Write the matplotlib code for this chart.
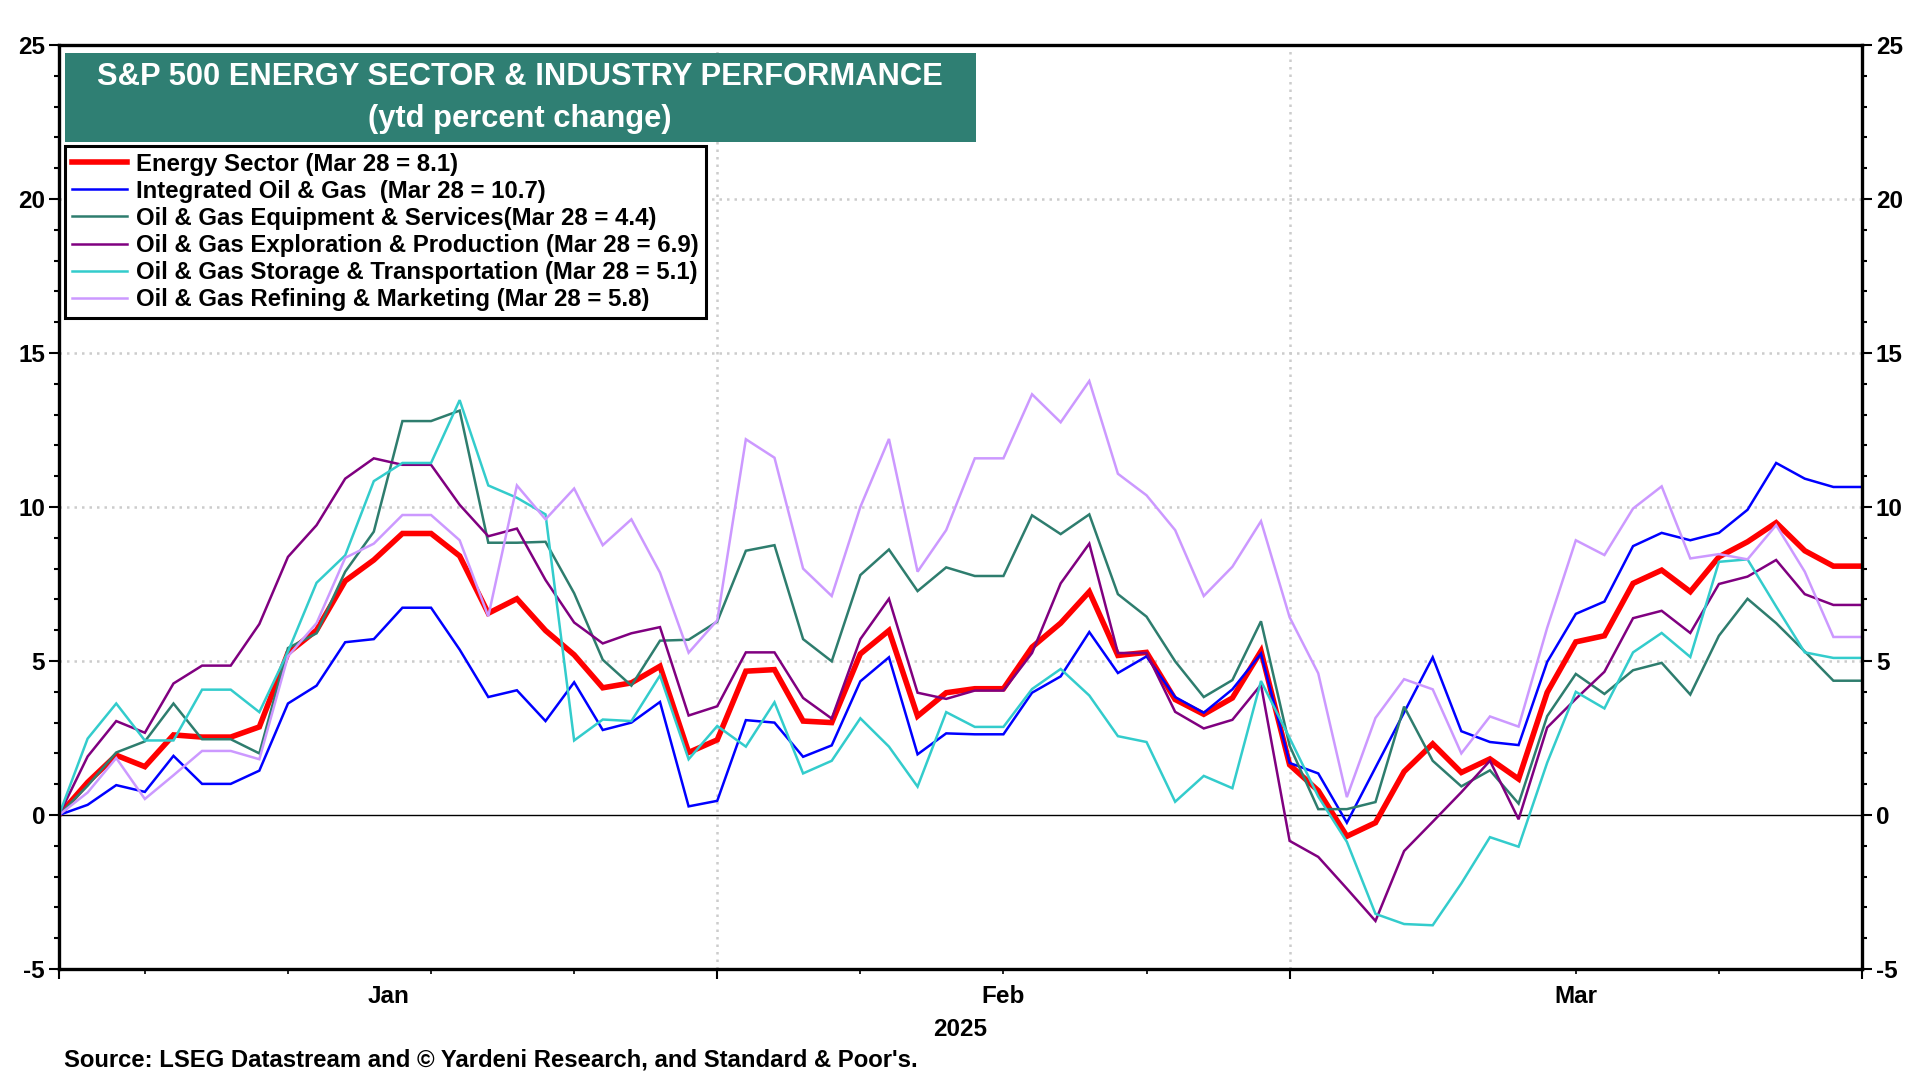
import numpy as np
import pandas as pd
import matplotlib
matplotlib.use('Agg')
import matplotlib.pyplot as plt
from matplotlib.patches import Rectangle
from matplotlib.ticker import MultipleLocator

plt.rcParams['font.family'] = ['Liberation Sans', 'DejaVu Sans']
plt.rcParams['font.weight'] = 'bold'
plt.rcParams['axes.unicode_minus'] = False

# weekdays Jan 1 - Mar 31 2025 (holidays carried forward)
dates = pd.bdate_range('2025-01-01', '2025-03-31')

energy = [0, 1.06, 1.94, 1.57, 2.6, 2.53, 2.53, 2.86, 5.26, 6.0, 7.6, 8.28, 9.14, 9.14,
          8.41, 6.55, 7.02, 5.99, 5.2, 4.13, 4.29, 4.83, 2.03, 2.44, 4.67, 4.72, 3.05, 3.0,
          5.23, 5.99, 3.21, 3.97, 4.1, 4.1, 5.45, 6.23, 7.25, 5.18, 5.28, 3.75, 3.27,
          3.8, 5.32, 1.63, 0.79, -0.69, -0.25, 1.41, 2.31, 1.38, 1.82, 1.17, 3.98,
          5.62, 5.82, 7.52, 7.95, 7.25, 8.38, 8.87, 9.49, 8.58, 8.08, 8.08]
integrated = [0, 0.33, 0.97, 0.75, 1.92, 1.01, 1.01, 1.44, 3.62, 4.2, 5.61, 5.71, 6.73, 6.73,
              5.37, 3.83, 4.05, 3.05, 4.31, 2.76, 3.0, 3.67, 0.28, 0.46, 3.08, 3.0, 1.89, 2.26,
              4.34, 5.12, 1.97, 2.65, 2.62, 2.62, 3.97, 4.5, 5.94, 4.61, 5.15, 3.83, 3.32,
              4.08, 5.24, 1.69, 1.35, -0.25, 1.54, 3.33, 5.12, 2.72, 2.37, 2.27, 4.97,
              6.53, 6.93, 8.73, 9.16, 8.92, 9.16, 9.91, 11.43, 10.92, 10.65, 10.65]
equipment = [0, 0.95, 2.03, 2.39, 3.62, 2.46, 2.46, 2.0, 5.42, 5.9, 7.9, 9.2, 12.79, 12.79,
             13.13, 8.84, 8.84, 8.87, 7.2, 5.04, 4.2, 5.66, 5.69, 6.28, 8.58, 8.76, 5.71, 4.99,
             7.79, 8.62, 7.27, 8.04, 7.76, 7.76, 9.73, 9.12, 9.76, 7.17, 6.44, 4.99, 3.83,
             4.38, 6.29, 2.25, 0.19, 0.19, 0.42, 3.52, 1.76, 0.93, 1.45, 0.37, 3.21,
             4.58, 3.93, 4.7, 4.94, 3.91, 5.82, 7.02, 6.23, 5.31, 4.36, 4.36]
exploration = [0, 1.9, 3.05, 2.67, 4.27, 4.85, 4.85, 6.2, 8.38, 9.41, 10.92, 11.58, 11.37, 11.37,
               10.07, 9.05, 9.3, 7.63, 6.25, 5.57, 5.9, 6.1, 3.23, 3.53, 5.28, 5.28, 3.8, 3.13,
               5.71, 7.02, 3.97, 3.77, 4.04, 4.04, 5.26, 7.52, 8.81, 5.26, 5.26, 3.35, 2.81,
               3.09, 4.23, -0.84, -1.36, -2.39, -3.44, -1.17, -0.22, 0.74, 1.76, -0.14, 2.84,
               3.77, 4.65, 6.39, 6.63, 5.91, 7.5, 7.74, 8.28, 7.17, 6.82, 6.82]
storage = [0, 2.48, 3.62, 2.42, 2.42, 4.07, 4.07, 3.34, 5.3, 7.54, 8.43, 10.84, 11.43, 11.43,
           13.47, 10.7, 10.3, 9.76, 2.42, 3.1, 3.05, 4.53, 1.81, 2.89, 2.22, 3.66, 1.35, 1.76,
           3.14, 2.22, 0.92, 3.34, 2.86, 2.86, 4.09, 4.74, 3.88, 2.56, 2.37, 0.43, 1.27,
           0.87, 4.35, 2.5, 0.6, -0.87, -3.21, -3.54, -3.58, -2.22, -0.72, -1.03, 1.7,
           4.0, 3.46, 5.28, 5.91, 5.13, 8.22, 8.3, 6.77, 5.28, 5.1, 5.1]
refining = [0, 0.73, 1.85, 0.52, 1.29, 2.08, 2.08, 1.81, 5.15, 6.23, 8.35, 8.81, 9.74, 9.74,
            8.92, 6.45, 10.7, 9.6, 10.6, 8.76, 9.6, 7.87, 5.27, 6.32, 12.2, 11.6, 8.0, 7.11,
            10.0, 12.21, 7.9, 9.25, 11.58, 11.58, 13.66, 12.75, 14.09, 11.08, 10.38, 9.25, 7.11,
            8.06, 9.54, 6.42, 4.6, 0.58, 3.15, 4.41, 4.08, 2.0, 3.2, 2.87, 6.08,
            8.92, 8.44, 9.95, 10.67, 8.33, 8.47, 8.3, 9.41, 7.9, 5.78, 5.78]

labels = ['Energy Sector (Mar 28 = 8.1)',
          'Integrated Oil & Gas  (Mar 28 = 10.7)',
          'Oil & Gas Equipment & Services(Mar 28 = 4.4)',
          'Oil & Gas Exploration & Production (Mar 28 = 6.9)',
          'Oil & Gas Storage & Transportation (Mar 28 = 5.1)',
          'Oil & Gas Refining & Marketing (Mar 28 = 5.8)']
series = [energy, integrated, equipment, exploration, storage, refining]
colors = ['#ff0000', '#0000ff', '#2e7d6e', '#800080', '#33cccc', '#cc99ff']
widths = [4.0, 1.8, 1.8, 1.8, 1.8, 1.8]

x = np.arange(len(dates))
month_start = [i for i in range(len(dates)) if i == 0 or dates[i].month != dates[i - 1].month]
month_names = ['Jan', 'Feb', 'Mar']

fig = plt.figure(figsize=(19.2, 10.8), dpi=100)
ax = fig.add_axes([59 / 1920, 1 - 969 / 1080, (1862 - 59) / 1920, (969 - 45) / 1080])

for ys, c, lw, lab in zip(series, colors, widths, labels):
    ax.plot(x, ys, color=c, lw=lw, label=lab, solid_joinstyle='miter')

ax.set_xlim(0, len(dates) - 1)
ax.set_ylim(-5, 25)

# grid
for g in [5, 10, 15, 20]:
    ax.axhline(g, color='#cccccc', lw=1.8, ls=(0, (1, 2)), zorder=0)
for m in month_start[1:]:
    ax.axvline(m, color='#cccccc', lw=1.8, ls=(0, (1, 2)), zorder=0)
ax.axhline(0, color='black', lw=1.0, zorder=0.5)

for s in ax.spines.values():
    s.set_linewidth(2.4)

ax.yaxis.set_major_locator(MultipleLocator(5))
ax.yaxis.set_minor_locator(MultipleLocator(1))
ax.tick_params(axis='y', which='both', left=True, right=True, labelleft=True, labelright=True,
               direction='out', labelsize=17.5, width=1.5)
ax.tick_params(axis='y', which='major', length=7, pad=3)
ax.tick_params(axis='y', which='minor', length=3.5)
for t in ax.get_yticklabels():
    t.set_fontweight('bold')

weeks = [i for i in range(len(dates)) if dates[i].weekday() == 0]
ax.set_xticks(month_start + [len(dates) - 1])
ax.set_xticks(weeks, minor=True)
ax.tick_params(axis='x', which='major', length=7, width=1.5, labelbottom=False)
ax.tick_params(axis='x', which='minor', length=3.5, width=1.2)

bounds = month_start + [len(dates) - 1]
for i, name in enumerate(month_names):
    ax.text((bounds[i] + bounds[i + 1]) / 2, -0.03, name, transform=ax.get_xaxis_transform(),
            ha='center', va='center', fontsize=17.5, fontweight='bold')
fig.text(960 / 1920, 1 - 1030 / 1080, '2025', ha='center', va='center', fontsize=17.5, fontweight='bold')

# title box
fig.patches.append(Rectangle((65 / 1920, 1 - 142 / 1080), (976 - 65) / 1920, (142 - 53) / 1080,
                             transform=fig.transFigure, facecolor='#2f7f73', edgecolor='none', zorder=5))
fig.text(520 / 1920, 1 - 77 / 1080, 'S&P 500 ENERGY SECTOR & INDUSTRY PERFORMANCE', color='white',
         ha='center', va='center', fontsize=22.2, fontweight='bold', zorder=6)
fig.text(520 / 1920, 1 - 119 / 1080, '(ytd percent change)', color='white',
         ha='center', va='center', fontsize=22.2, fontweight='bold', zorder=6)

leg = ax.legend(loc='upper left', bbox_to_anchor=(65 / 1920, 1 - 146 / 1080), bbox_transform=fig.transFigure,
                prop={'family': 'Liberation Sans', 'weight': 'bold', 'size': 17.3},
                frameon=True, fancybox=False, framealpha=1, edgecolor='black',
                handlelength=2.3, handletextpad=0.38, labelspacing=0.17, borderpad=0.28,
                borderaxespad=0)
leg.get_frame().set_linewidth(2.2)

fig.text(64 / 1920, 1 - 1060 / 1080, "Source: LSEG Datastream and \u00a9 Yardeni Research, and Standard & Poor's.",
         ha='left', va='center', fontsize=17.2, fontweight='bold')

fig.savefig('out.png', dpi=100)
